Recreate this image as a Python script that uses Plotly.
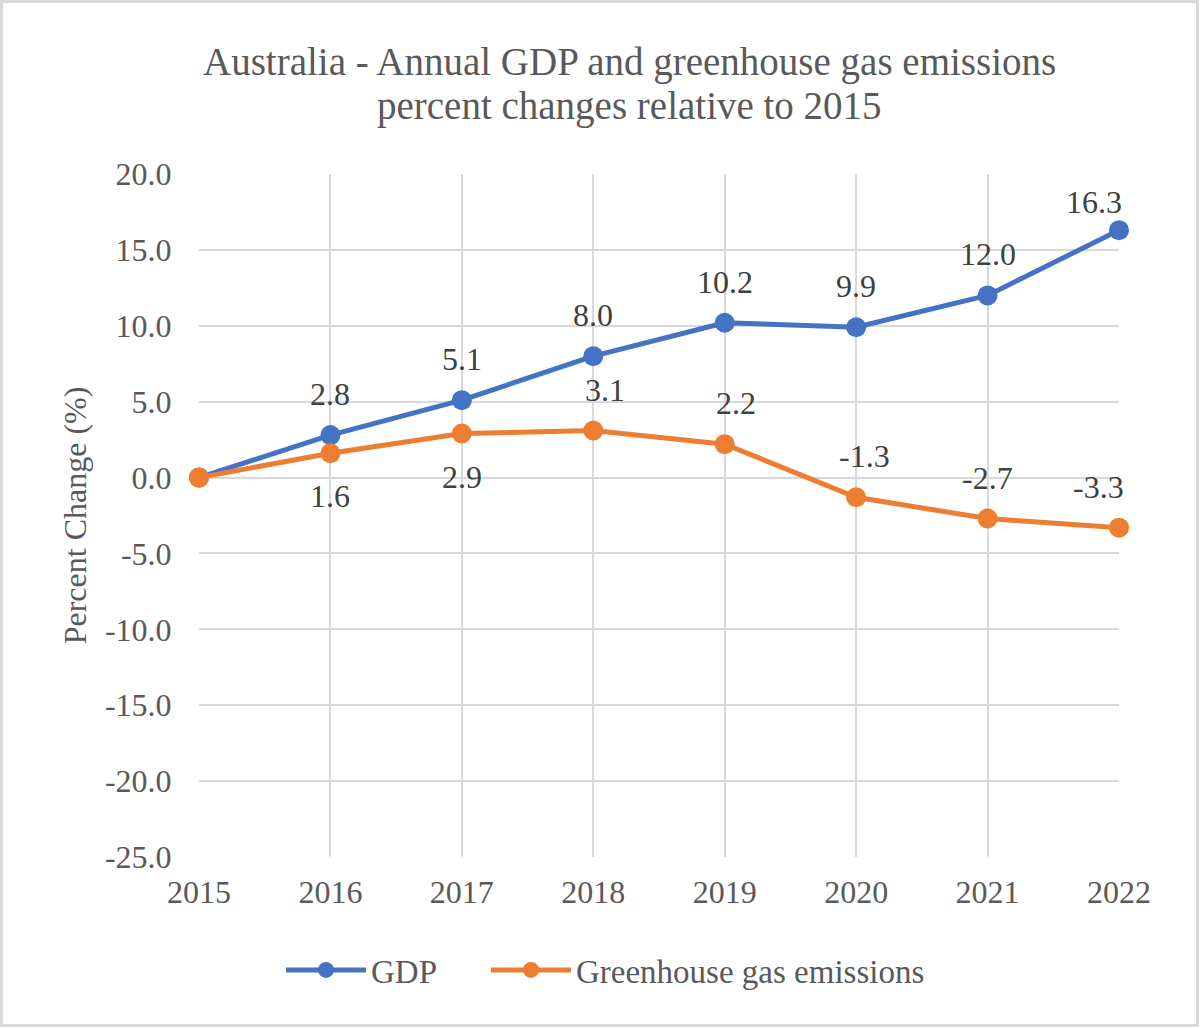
import plotly.graph_objects as go

years = [2015, 2016, 2017, 2018, 2019, 2020, 2021, 2022]
gdp = [0.0, 2.8, 5.1, 8.0, 10.2, 9.9, 12.0, 16.3]
ghg = [0.0, 1.6, 2.9, 3.1, 2.2, -1.3, -2.7, -3.3]
ghg_label_pos = ["none", "below", "below", "above", "above", "above", "above", "above"]
gdp_label_pos = ["none", "above", "above", "above", "above", "above", "above", "above"]
y_ticks = [20, 15, 10, 5, 0, -5, -10, -15, -20, -25]
title_lines = ["Australia - Annual GDP and greenhouse gas emissions",
               "percent changes relative to 2015"]

# label nudges (style only): (series, year) -> (xshift, extra yshift)
label_nudge = {("gdp", 2022): (-25, -13), ("ghg", 2022): (-21, 0),
               ("ghg", 2018): (12, 0), ("ghg", 2019): (11, 0), ("ghg", 2020): (8, 0)}

BLUE = "#4472C4"
ORANGE = "#ED7D31"
TXT = "#595959"
LBL = "#404040"
GRID = "#D9D9D9"
FONT = "Liberation Serif"

W, H = 1200, 1028
L, R, T, B = 199, 81, 174, 171
pw, ph = W - L - R, H - T - B

def py(pix):
    return (H - B - pix) / ph

def px(pix):
    return (pix - L) / pw

fig = go.Figure()
fig.add_trace(go.Scatter(x=years, y=gdp, name="GDP", mode="lines+markers",
                         legend="legend", cliponaxis=False,
                         line=dict(color=BLUE, width=5),
                         marker=dict(size=20, color=BLUE)))
fig.add_trace(go.Scatter(x=years, y=ghg, name="Greenhouse gas emissions", mode="lines+markers",
                         legend="legend2", cliponaxis=False,
                         line=dict(color=ORANGE, width=5),
                         marker=dict(size=20, color=ORANGE)))

annotations = []
for key, series, positions in (("gdp", gdp, gdp_label_pos), ("ghg", ghg, ghg_label_pos)):
    for x, v, p in zip(years, series, positions):
        if p == "none":
            continue
        dx, dy = label_nudge.get((key, x), (0, 0))
        annotations.append(dict(
            x=x, y=v, xref="x", yref="y", text=f"{v:.1f}", showarrow=False,
            font=dict(family=FONT, size=32, color=LBL),
            yanchor="bottom" if p == "above" else "top",
            xshift=dx,
            yshift=(21 if p == "above" else -23) + dy))

for line, ypix in zip(title_lines, [62, 106]):
    annotations.append(dict(x=px(629), xref="paper", y=py(ypix), yref="paper",
                            text=line, showarrow=False, xanchor="center", yanchor="middle",
                            font=dict(family=FONT, size=39, color=TXT)))

shapes = [dict(type="rect", xref="paper", yref="paper",
               x0=px(1.5), x1=px(W - 2.5), y0=py(H - 2.5), y1=py(1.5),
               line=dict(color=GRID, width=3), fillcolor="rgba(0,0,0,0)", layer="below")]

legend_common = dict(orientation="h", xanchor="left", y=py(970), yanchor="middle",
                     font=dict(family=FONT, size=33, color=TXT), itemwidth=80,
                     bgcolor="rgba(0,0,0,0)")

fig.update_layout(
    width=W, height=H,
    margin=dict(l=L, r=R, t=T, b=B),
    paper_bgcolor="white", plot_bgcolor="white",
    font=dict(family=FONT, color=TXT, size=32),
    showlegend=True,
    legend=dict(x=px(281), **legend_common),
    legend2=dict(x=px(486), **legend_common),
    annotations=annotations,
    shapes=shapes,
)
fig.update_xaxes(range=[2015, 2022], tickvals=years, ticktext=[str(y) for y in years],
                 showgrid=True, gridcolor=GRID, gridwidth=2, zeroline=False,
                 showline=False, ticks="outside", ticklen=7, tickcolor="rgba(0,0,0,0)",
                 tickfont=dict(family=FONT, size=32, color=TXT))
fig.update_yaxes(range=[-25, 20], tickvals=y_ticks, ticktext=[f"{v:.1f}" for v in y_ticks],
                 showgrid=True, gridcolor=GRID, gridwidth=2, zeroline=False,
                 showline=False, ticks="outside", ticklen=20, tickcolor="rgba(0,0,0,0)",
                 tickfont=dict(family=FONT, size=32, color=TXT),
                 title=dict(text="Percent Change (%)", standoff=8,
                            font=dict(family=FONT, size=32, color=TXT)))

fig.write_html("out.html")
